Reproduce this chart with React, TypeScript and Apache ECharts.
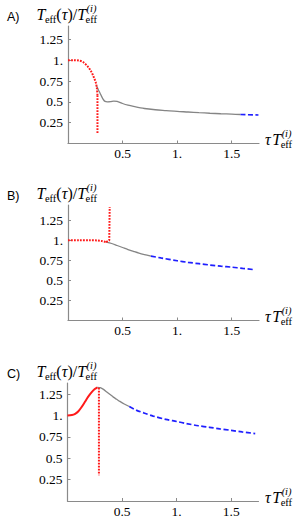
import React, { useEffect, useRef } from "react";
import * as echarts from "echarts";

// ---- tick labels ----
const xTickValues = [0.5, 1, 1.5];
const xTickLabels = ["0.5", "1.", "1.5"];
const yTickValues = [0.25, 0.5, 0.75, 1, 1.25];
const yTickLabels = ["0.25", "0.5", "0.75", "1.", "1.25"];
const panelNames = ["A)", "B)", "C)"];
const yMaxes = [1.41, 1.44, 1.38];
const xMax = 1.75;

// ---- Panel A ----
const redA = [[0, 1.0], [0.05, 1.0], [0.1, 0.995], [0.14, 0.975], [0.18, 0.925], [0.21, 0.87], [0.235, 0.8], [0.255, 0.73], [0.265, 0.66], [0.27, 0.58]];
const redDropA = [[0.27, 0.58], [0.27, 0.12]];
const grayA = [[0.262, 0.69], [0.28, 0.64], [0.295, 0.6], [0.31, 0.56], [0.325, 0.525], [0.34, 0.505], [0.36, 0.5], [0.39, 0.502], [0.42, 0.508], [0.45, 0.505], [0.5, 0.48], [0.55, 0.46], [0.6, 0.445], [0.7, 0.42], [0.8, 0.405], [0.9, 0.395], [1.0, 0.385], [1.1, 0.378], [1.2, 0.37], [1.3, 0.363], [1.4, 0.357], [1.5, 0.352], [1.58, 0.348]];
const blueA = [[1.58, 0.348], [1.65, 0.345], [1.745, 0.342]];

// ---- Panel B ----
const redB = [[0, 1.0], [0.1, 1.0], [0.2, 1.0], [0.27, 0.998], [0.31, 0.99], [0.35, 0.978]];
const redRiseB = [[0.35, 0.978], [0.378, 1.0], [0.382, 1.415]];
const grayB = [[0.35, 0.978], [0.4, 0.96], [0.45, 0.935], [0.5, 0.91], [0.55, 0.885], [0.6, 0.862], [0.65, 0.84], [0.7, 0.822], [0.76, 0.803]];
const blueB = [[0.76, 0.803], [0.85, 0.78], [1.0, 0.745], [1.1, 0.725], [1.2, 0.708], [1.3, 0.692], [1.4, 0.678], [1.5, 0.665], [1.6, 0.65], [1.7, 0.635]];

// ---- Panel C ----
const redC = [[0, 1.0], [0.04, 1.005], [0.07, 1.02], [0.1, 1.05], [0.13, 1.1], [0.16, 1.16], [0.19, 1.22], [0.22, 1.27], [0.25, 1.31], [0.275, 1.33]];
const redDropC = [[0.288, 1.325], [0.288, 0.3]];
const grayC = [[0.275, 1.33], [0.3, 1.325], [0.33, 1.305], [0.36, 1.275], [0.39, 1.245], [0.42, 1.215], [0.45, 1.19], [0.48, 1.165], [0.52, 1.135], [0.566, 1.105]];
const blueC = [[0.566, 1.105], [0.634, 1.06], [0.7, 1.03], [0.785, 0.993], [0.9, 0.955], [1.0, 0.93], [1.09, 0.906], [1.2, 0.88], [1.3, 0.862], [1.395, 0.844], [1.5, 0.826], [1.6, 0.808], [1.72, 0.789]];

// ---- layout ----
const layout = [
  { top: 26, height: 117.5, left: 68 },
  { top: 205, height: 115.5, left: 68 },
  { top: 383, height: 118, left: 67.5 },
];
const plotWidth = 191;

const RED = "#ff1a1a";
const BLUE = "#1f1fff";
const GRAY = "#858585";
const AXIS = "#8a8a8a";
const SERIF = "Liberation Serif";

let mctx: CanvasRenderingContext2D | null = null;
function tw(text: string, font: string) {
  if (!mctx) mctx = document.createElement("canvas").getContext("2d");
  mctx!.font = font;
  return mctx!.measureText(text).width;
}

function txt(text: string, x: number, base: number, size: number, italic: boolean) {
  return {
    type: "text",
    x,
    y: base - 0.34 * size,
    silent: true,
    style: {
      text,
      fontFamily: SERIF,
      fontSize: size,
      fontStyle: italic ? "italic" : "normal",
      fill: "#000",
      align: "left",
      verticalAlign: "middle",
    },
  };
}

const BIG = 16;
const SMALL = 10.5;

function teff(x: number, base: number, sup: boolean, els: any[]) {
  const fI = `italic ${BIG}px "${SERIF}"`;
  const fS = `${SMALL}px "${SERIF}"`;
  const fSI = `italic ${SMALL}px "${SERIF}"`;
  const wT = tw("T", fI);
  els.push(txt("T", x, base, BIG, true));
  const sx = x + wT - 0.5;
  els.push(txt("eff", sx, base + 3.5, SMALL, false));
  let w = tw("eff", fS);
  if (sup) {
    els.push(txt("(i)", sx + 1, base - 7.5, SMALL, true));
    w = Math.max(w, tw("(i)", fSI) + 1);
  }
  return sx + w - x;
}

function yLabel(x: number, base: number, els: any[]) {
  let cx = x;
  cx += teff(cx, base, false, els);
  const fR = `${BIG}px "${SERIF}"`;
  const fI = `italic ${BIG}px "${SERIF}"`;
  els.push(txt("(", cx, base, BIG, false));
  cx += tw("(", fR);
  els.push(txt("τ", cx, base, BIG, true));
  cx += tw("τ", fI);
  els.push(txt(")/", cx, base, BIG, false));
  cx += tw(")/", fR);
  teff(cx, base, true, els);
}

function xLabel(x: number, base: number, els: any[]) {
  const fI = `italic ${BIG}px "${SERIF}"`;
  els.push(txt("τ", x, base, BIG, true));
  const cx = x + tw("τ", fI) + 1.5;
  teff(cx, base, true, els);
}

function fmt(values: number[], labels: string[]) {
  return (v: number) => {
    const i = values.findIndex((t) => Math.abs(t - v) < 1e-6);
    return i >= 0 ? labels[i] : "";
  };
}

function line(data: number[][], idx: number, color: string, type: any, width: number, smooth: number | boolean) {
  return {
    type: "line",
    xAxisIndex: idx,
    yAxisIndex: idx,
    data,
    showSymbol: false,
    smooth,
    silent: true,
    lineStyle: { color, width, type, cap: "butt" },
  };
}

export default function App() {
  const ref = useRef<HTMLDivElement>(null);
  useEffect(() => {
    if (!ref.current) return;
    const chart = echarts.init(ref.current, undefined, { renderer: "svg" });

    const grids = layout.map((l) => ({ left: l.left, top: l.top, width: plotWidth, height: l.height }));
    const axisLine = { show: true, onZero: false, lineStyle: { color: AXIS, width: 1.2 } };
    const axisTick = { show: true, inside: true, length: 3, lineStyle: { color: AXIS, width: 1 } };
    const labelStyle = {
      fontFamily: SERIF,
      fontSize: 13.5,
      color: "#000",
      showMinLabel: false,
      showMaxLabel: false,
    };
    const xAxes = layout.map((_, i) => ({
      type: "value",
      gridIndex: i,
      min: 0,
      max: xMax,
      interval: 0.5,
      axisLine,
      axisTick,
      splitLine: { show: false },
      axisLabel: { ...labelStyle, formatter: fmt(xTickValues, xTickLabels), margin: 3 },
    }));
    const yAxes = layout.map((_, i) => ({
      type: "value",
      gridIndex: i,
      min: 0,
      max: yMaxes[i],
      interval: 0.25,
      axisLine,
      axisTick,
      splitLine: { show: false },
      axisLabel: { ...labelStyle, formatter: fmt(yTickValues, yTickLabels), margin: 5 },
    }));

    const redDot = [1.8, 1.2];
    const blueDash = [5, 2.5];
    const series = [
      line(grayA, 0, GRAY, "solid", 1.3, 0.3),
      line(blueA, 0, BLUE, blueDash, 1.7, false),
      line(redA, 0, RED, redDot, 2, 0.3),
      line(redDropA, 0, RED, redDot, 2, false),
      line(grayB, 1, GRAY, "solid", 1.3, 0.3),
      line(blueB, 1, BLUE, blueDash, 1.7, 0.3),
      line(redB, 1, RED, redDot, 2, 0.3),
      line(redRiseB, 1, RED, redDot, 2, false),
      line(grayC, 2, GRAY, "solid", 1.3, 0.3),
      line(blueC, 2, BLUE, blueDash, 1.7, 0.3),
      line(redC, 2, RED, "solid", 2, 0.3),
      line(redDropC, 2, RED, redDot, 2, false),
    ];

    const els: any[] = [];
    layout.forEach((l, i) => {
      els.push({
        type: "text",
        x: 7,
        y: l.top - 9.5,
        silent: true,
        style: {
          text: panelNames[i],
          fontFamily: "Liberation Sans",
          fontSize: 12.5,
          fill: "#000",
          align: "left",
          verticalAlign: "middle",
        },
      });
      yLabel(36.5, l.top - 6.5, els);
      xLabel(265, l.top + l.height + 1.5, els);
    });

    chart.setOption({
      animation: false,
      backgroundColor: "#fff",
      grid: grids,
      xAxis: xAxes,
      yAxis: yAxes,
      series,
      graphic: els,
    });
    return () => chart.dispose();
  }, []);
  return (
    <div
      ref={ref}
      style={{ position: "fixed", left: 0, top: 0, width: 307, height: 524, background: "#fff" }}
    />
  );
}
